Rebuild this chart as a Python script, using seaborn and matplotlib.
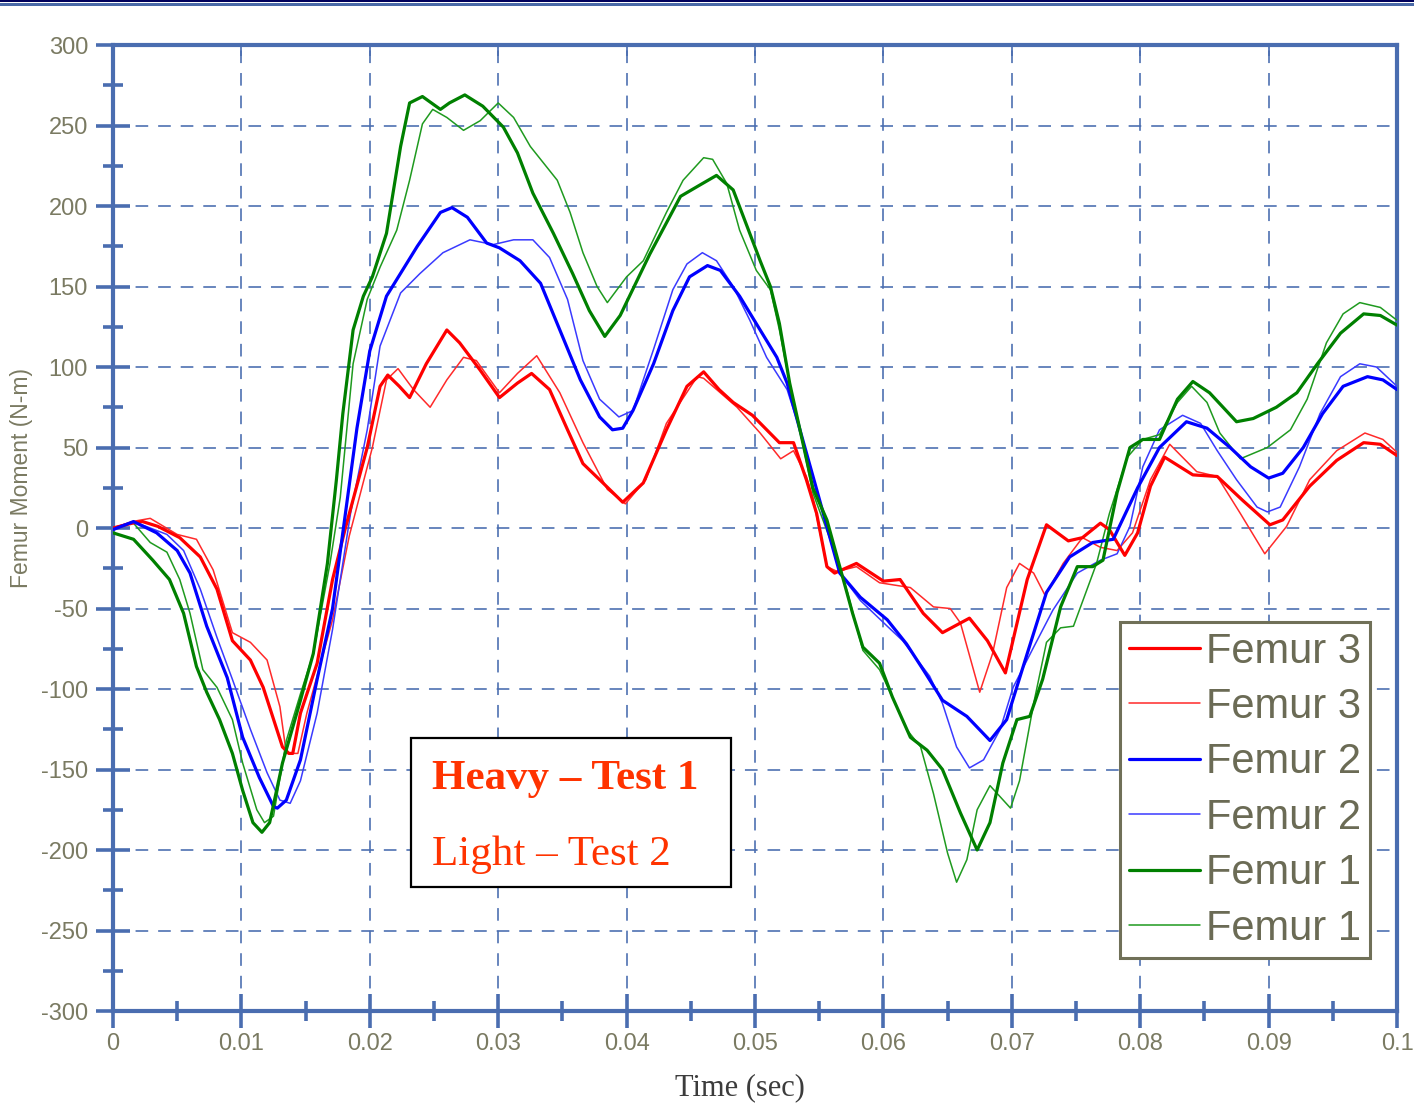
import numpy as np
import pandas as pd
import matplotlib
matplotlib.use("Agg")
import matplotlib.pyplot as plt
import seaborn as sns
from matplotlib.lines import Line2D
from matplotlib.patches import Rectangle
from matplotlib.ticker import FixedLocator, MultipleLocator, NullFormatter

# ---------------- data (time in ms, moment in N-m) ----------------
t_h3 = [0, 1.5, 2.3, 3.5, 5.2, 6.8, 8.1, 9.3, 10.7, 11.7,
        13.2, 13.7, 14.0, 14.6, 15.9, 17.1, 18.1, 19.8, 20.8, 21.4,
        22.3, 23.1, 24.4, 26.0, 27.0, 28.6, 30.1, 31.5, 32.6, 34.0,
        35.4, 36.6, 37.9, 39.7, 41.3, 43.1, 44.7, 46.0, 47.2, 48.3,
        49.8, 51.9, 53.0, 54.0, 54.8, 55.6, 56.2, 57.9, 60.0, 61.3,
        63.1, 64.6, 66.7, 68.1, 69.5, 71.2, 72.7, 74.4, 75.5, 76.9,
        77.6, 78.8, 79.8, 80.8, 81.9, 84.1, 86.0, 88.0, 90.1, 91.1,
        93.2, 95.3, 97.4, 98.7, 100]
v_h3 = [0, 3, 4, 1, -6, -18, -38, -70, -82, -99,
        -136, -140, -140, -115, -84, -32, 0, 50, 88, 95,
        88, 81, 102, 123, 115, 98, 81, 90, 96, 86,
        61, 40, 30, 16, 28, 61, 88, 97, 86, 78,
        70, 53, 53, 30, 9, -24, -28, -22, -33, -32,
        -53, -65, -56, -70, -90, -32, 2, -8, -6, 3,
        -1, -17, -3, 26, 44, 33, 32, 17, 2, 5,
        26, 42, 53, 52, 45]

t_l3 = [0, 1.5, 2.9, 5.0, 6.5, 7.8, 9.3, 10.7, 12.0, 13.0,
        13.5, 14.4, 15.1, 16.1, 17.1, 18.4, 20.2, 21.3, 22.2, 23.4,
        24.7, 26.0, 27.3, 28.3, 30.1, 31.5, 33.0, 34.8, 36.6, 38.5,
        39.9, 41.5, 43.1, 45.5, 46.0, 48.6, 50.4, 52.0, 53.0, 54.0,
        54.5, 55.6, 56.4, 57.9, 59.7, 62.1, 63.9, 65.2, 66.0, 67.5,
        68.5, 69.6, 70.6, 71.7, 72.6, 74.0, 75.5, 76.9, 78.2, 79.4,
        80.8, 82.3, 84.4, 86.0, 87.8, 89.7, 91.4, 93.2, 95.3, 97.5,
        98.9, 100]
v_l3 = [0, 4, 6, -4, -7, -26, -65, -71, -82, -111,
        -140, -140, -115, -86, -57, -5, 50, 92, 99, 86,
        75, 92, 106, 104, 84, 96, 107, 84, 53, 24,
        15, 30, 65, 94, 93, 75, 59, 43, 48, 32,
        19, -24, -27, -24, -34, -37, -49, -50, -59, -102,
        -78, -37, -22, -28, -42, -22, -6, -12, -14, -3,
        30, 52, 35, 32, 9, -16, 1, 30, 48, 59,
        55, 47]

t_h2 = [0, 1.6, 3.4, 5.0, 6.0, 7.3, 8.9, 10.1, 11.4, 12.5,
        12.8, 13.5, 14.6, 15.9, 17.1, 18.0, 19.0, 20.0, 21.3, 23.7,
        25.5, 26.4, 27.6, 29.1, 30.1, 31.7, 33.3, 34.8, 36.4, 37.9,
        38.9, 39.7, 40.5, 42.1, 43.6, 44.9, 46.3, 47.3, 48.8, 50.4,
        51.7, 52.5, 53.5, 54.8, 56.6, 58.2, 60.3, 61.8, 63.1, 64.6,
        66.5, 68.3, 69.6, 71.2, 72.7, 74.5, 76.3, 77.9, 79.8, 81.5,
        83.6, 85.2, 87.0, 88.6, 90.0, 91.1, 92.7, 94.2, 95.8, 97.7,
        98.9, 100]
v_h2 = [-1, 4, -3, -14, -28, -61, -93, -130, -155, -173,
        -174, -169, -144, -94, -50, 3, 62, 110, 144, 175,
        196, 199, 193, 177, 174, 166, 152, 123, 92, 69,
        61, 62, 73, 102, 135, 156, 163, 160, 144, 123,
        106, 90, 61, 24, -28, -43, -57, -72, -88, -107,
        -117, -132, -119, -78, -40, -18, -9, -7, 25, 50,
        66, 62, 50, 38, 31, 34, 50, 71, 88, 94,
        92, 86]

t_l2 = [0, 1.6, 4.2, 5.5, 6.8, 8.1, 9.3, 10.7, 12.0, 13.0,
        13.8, 14.6, 15.9, 17.1, 18.5, 19.8, 20.8, 22.4, 23.9, 25.7,
        27.8, 29.6, 31.2, 32.7, 34.0, 35.4, 36.6, 37.9, 39.4, 40.5,
        42.1, 43.6, 44.7, 45.9, 47.0, 48.3, 49.6, 50.9, 52.5, 53.5,
        54.8, 56.6, 58.2, 60.3, 61.5, 63.6, 64.6, 65.7, 66.7, 67.8,
        69.1, 70.1, 71.7, 73.2, 75.1, 76.9, 78.2, 79.2, 80.2, 81.5,
        83.3, 84.7, 86.0, 87.5, 89.1, 89.9, 90.9, 92.4, 94.0, 95.6,
        97.1, 98.4, 100]
v_l2 = [0, 4, -4, -14, -38, -68, -94, -125, -152, -169,
        -171, -157, -115, -63, 9, 61, 113, 146, 158, 171,
        179, 176, 179, 179, 168, 142, 104, 80, 69, 73,
        111, 148, 164, 171, 166, 150, 129, 106, 86, 61,
        24, -28, -45, -61, -70, -92, -109, -136, -149, -144,
        -125, -99, -74, -51, -28, -20, -16, 1, 38, 61,
        70, 65, 48, 30, 13, 10, 13, 38, 71, 94,
        102, 100, 88]

t_h1 = [0, 1.6, 3.1, 4.4, 5.5, 6.5, 7.3, 8.3, 9.3, 10.1,
        10.9, 11.6, 12.2, 13.2, 14.6, 15.6, 16.7, 17.4, 17.9, 18.7,
        19.5, 20.2, 21.3, 22.4, 23.1, 24.1, 25.5, 26.2, 27.4, 28.8,
        30.4, 31.5, 32.7, 34.3, 35.8, 37.1, 38.3, 39.5, 41.8, 44.2,
        45.7, 47.0, 48.3, 49.4, 50.4, 51.2, 51.9, 52.7, 53.5, 54.5,
        55.6, 56.6, 57.6, 58.4, 59.7, 60.7, 62.1, 63.4, 64.6, 66.0,
        67.3, 68.3, 69.3, 70.4, 71.4, 72.4, 73.8, 75.1, 76.3, 77.1,
        78.2, 79.2, 80.2, 81.5, 82.9, 84.1, 85.4, 87.5, 88.8, 90.6,
        92.2, 93.8, 95.6, 97.4, 98.7, 100]
v_h1 = [-3, -7, -20, -32, -53, -86, -102, -119, -140, -163,
        -183, -189, -183, -146, -107, -78, -22, 30, 71, 123,
        144, 156, 183, 237, 264, 268, 260, 264, 269, 262,
        249, 233, 208, 183, 158, 135, 119, 132, 170, 206,
        213, 219, 210, 187, 166, 150, 127, 90, 61, 25,
        5, -24, -53, -74, -84, -105, -130, -138, -150, -177,
        -200, -183, -146, -119, -117, -94, -49, -24, -24, -20,
        22, 50, 55, 55, 80, 91, 84, 66, 68, 75,
        84, 102, 121, 133, 132, 126]

t_l1 = [0, 1.6, 2.9, 4.2, 5.2, 6.0, 7.0, 8.1, 9.3, 10.1,
        11.2, 11.8, 12.5, 13.5, 14.6, 15.6, 16.9, 17.7, 18.7, 19.8,
        20.8, 22.1, 23.1, 24.1, 24.9, 26.0, 27.3, 28.6, 30.0, 31.2,
        32.5, 33.5, 34.6, 35.6, 36.6, 37.7, 38.5, 40.0, 41.3, 43.1,
        44.4, 46.0, 46.7, 47.8, 48.8, 50.1, 51.2, 51.9, 52.7, 53.5,
        54.5, 55.8, 57.2, 58.4, 59.7, 60.7, 61.8, 62.9, 63.9, 65.0,
        65.7, 66.5, 67.3, 68.3, 69.1, 69.9, 70.6, 71.7, 72.7, 73.8,
        74.8, 76.6, 77.6, 79.0, 80.2, 81.5, 82.9, 84.0, 85.2, 86.2,
        87.8, 89.9, 91.7, 93.0, 94.5, 95.8, 97.1, 98.7, 100]
v_l1 = [0, 3, -9, -15, -32, -53, -88, -99, -119, -146,
        -175, -183, -179, -132, -103, -78, -22, 19, 102, 142,
        162, 185, 216, 251, 260, 255, 247, 253, 264, 255,
        237, 227, 216, 196, 171, 150, 140, 156, 166, 196,
        216, 230, 229, 214, 185, 160, 148, 123, 90, 61,
        22, -6, -40, -76, -88, -105, -125, -136, -165, -202,
        -220, -206, -175, -160, -167, -174, -157, -109, -71, -62,
        -61, -22, 9, 44, 55, 58, 78, 88, 78, 59,
        43, 50, 61, 80, 115, 133, 140, 137, 129]

legend_labels = ["Femur 3", "Femur 3", "Femur 2", "Femur 2", "Femur 1", "Femur 1"]
x_ticks = [0, 0.01, 0.02, 0.03, 0.04, 0.05, 0.06, 0.07, 0.08, 0.09, 0.1]
x_tick_labels = ["0", "0.01", "0.02", "0.03", "0.04", "0.05", "0.06", "0.07", "0.08", "0.09", "0.1"]
y_ticks = [-300, -250, -200, -150, -100, -50, 0, 50, 100, 150, 200, 250, 300]
y_tick_labels = ["-300", "-250", "-200", "-150", "-100", "-50", "0", "50", "100", "150", "200", "250", "300"]
note_heavy = "Heavy \u2013 Test 1"
note_light = "Light \u2013 Test 2"
x_label = "Time (sec)"
y_label = "Femur Moment (N-m)"

# ---------------- styling ----------------
sns.set_theme(style="white")
plt.rcParams['font.family'] = ['Liberation Sans', 'DejaVu Sans']
plt.rcParams['axes.unicode_minus'] = False

axis_blue = "#4a6db0"
label_col = "#7a7a62"
legend_col = "#6b6b55"

fig = plt.figure(figsize=(14.14, 11.03), dpi=100)
ax = fig.add_axes([0.0799, 0.0834, 0.9081, 0.8758])

# order: (t, v, color, lw, zorder)
series = [
    (t_l3, v_l3, "#ff2a2a", 1.1, 3),
    (t_l2, v_l2, "#3a3aff", 1.1, 3),
    (t_l1, v_l1, "#1f9a1f", 1.1, 3),
    (t_h3, v_h3, "#ff0000", 2.3, 4),
    (t_h2, v_h2, "#0000ff", 2.3, 4),
    (t_h1, v_h1, "#008000", 2.3, 4),
]
for t, v, c, lw, z in series:
    df = pd.DataFrame({"t": np.asarray(t) / 1000.0, "v": v})
    sns.lineplot(data=df, x="t", y="v", ax=ax, color=c, linewidth=lw,
                 estimator=None, sort=False, legend=False, zorder=z)

ax.set_xlim(0, 0.1)
ax.set_ylim(-300, 300)
ax.set_xlabel("")
ax.set_ylabel("")

ax.xaxis.set_major_locator(FixedLocator(x_ticks))
ax.set_xticklabels(x_tick_labels)
ax.xaxis.set_minor_locator(MultipleLocator(0.005))
ax.yaxis.set_major_locator(FixedLocator(y_ticks))
ax.set_yticklabels(y_tick_labels)
ax.yaxis.set_minor_locator(MultipleLocator(25))

ax.tick_params(which='major', direction='inout', length=24, width=2.6,
               color=axis_blue, labelcolor=label_col, labelsize=17)
ax.tick_params(which='minor', direction='inout', length=14, width=2.6, color=axis_blue)
ax.tick_params(axis='x', which='both', bottom=True, top=False, pad=4)
ax.tick_params(axis='y', which='both', left=True, right=False, pad=6)

ax.grid(which='major', color=axis_blue, linestyle=(0, (7, 5.5)), linewidth=1.3, alpha=0.9)
ax.grid(which='minor', visible=False)
ax.set_axisbelow(True)

for s in ax.spines.values():
    s.set_color(axis_blue)
    s.set_linewidth(3.0)
    s.set_visible(True)

# small inward ticks along the top edge
sec = ax.secondary_xaxis('top')
sec.set_xticks(x_ticks)
sec.xaxis.set_major_formatter(NullFormatter())
sec.tick_params(axis='x', which='major', top=True, direction='in', length=8, width=1.2, color=axis_blue)
sec.tick_params(axis='x', which='minor', top=False)
sec.spines['top'].set_visible(False)

# legend
handles = [
    Line2D([], [], color="#ff0000", lw=2.3),
    Line2D([], [], color="#ff2a2a", lw=1.1),
    Line2D([], [], color="#0000ff", lw=2.3),
    Line2D([], [], color="#3a3aff", lw=1.1),
    Line2D([], [], color="#008000", lw=2.3),
    Line2D([], [], color="#1f9a1f", lw=1.1),
]
leg = ax.legend(handles, legend_labels, loc='lower right', bbox_to_anchor=(0.979, 0.055),
                fontsize=30, frameon=True, fancybox=False, edgecolor="#707058",
                handlelength=1.7, handletextpad=0.15, labelspacing=0.37,
                borderpad=0.22, borderaxespad=0)
leg.get_frame().set_linewidth(2.2)
leg.get_frame().set_facecolor("white")
leg.get_frame().set_alpha(1)
for tx in leg.get_texts():
    tx.set_color(legend_col)
leg.set_zorder(10)

# axis labels
fig.text(22 / 1414, 1 - 478 / 1103, y_label, rotation=90, ha='center', va='center',
         fontsize=16.5, color=label_col)
fig.text(740 / 1414, 1 - 1088 / 1103, x_label, ha='center', va='center',
         fontsize=22, color="#3c3c3c", family=['Liberation Serif', 'DejaVu Serif'])

# annotation box
fig.patches.append(Rectangle((411 / 1414, 1 - 887 / 1103), 320 / 1414, 149 / 1103,
                             transform=fig.transFigure, facecolor='white',
                             edgecolor='black', linewidth=1.6, zorder=5))
fig.text(432 / 1414, 1 - 779 / 1103, note_heavy, ha='left', va='center', fontsize=31,
         fontweight='bold', color="#ff3300", family=['Liberation Serif', 'DejaVu Serif'], zorder=6)
fig.text(432 / 1414, 1 - 855 / 1103, note_light, ha='left', va='center', fontsize=31,
         color="#ff3300", family=['Liberation Serif', 'DejaVu Serif'], zorder=6)

# double rule at the top of the page
fig.patches.append(Rectangle((0, 1 - 2 / 1103), 1, 2 / 1103, transform=fig.transFigure,
                             facecolor='#00005a', edgecolor='none'))
fig.patches.append(Rectangle((0, 1 - 6 / 1103), 1, 3 / 1103, transform=fig.transFigure,
                             facecolor='#4a6aa8', edgecolor='none'))

fig.savefig("out.png", dpi=100)
